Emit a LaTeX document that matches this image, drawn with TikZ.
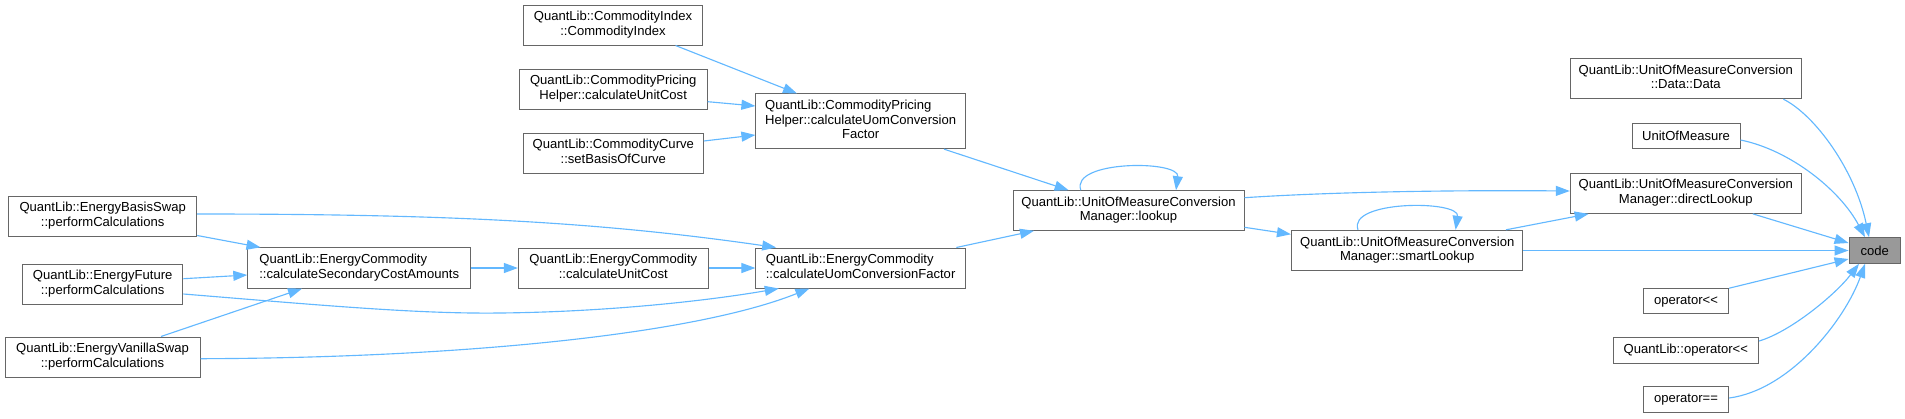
\documentclass[tikz,border=0pt]{standalone}
\usepackage{fontspec}
\usetikzlibrary{arrows.meta,calc}
\newfontfamily\dfont{Liberation Sans}
\newdimen\px \px=0.75pt
\definecolor{edgeblue}{HTML}{63B8FF}
\definecolor{bordergray}{HTML}{666666}
\definecolor{rootgray}{HTML}{999999}
\newcommand\twol[2]{\begin{tabular}{@{}l@{}}#1\\\multicolumn{1}{@{}c@{}}{#2}\end{tabular}}
\newcommand\threel[3]{\begin{tabular}{@{}l@{}}#1\\#2\\\multicolumn{1}{@{}c@{}}{#3}\end{tabular}}
\tikzset{
  box/.style={draw=bordergray, fill=white, line width=0.75pt, inner sep=0pt, align=center,
    font=\dfont\fontsize{9.8}{11}\selectfont, text=black},
  rootbox/.style={box, fill=rootgray},
  conn/.style={draw=edgeblue, line width=0.85pt, -{Triangle[length=10.5pt,width=7.5pt]}},
}
\begin{document}
\begin{tikzpicture}[x=0.75pt, y=-0.75pt]
\useasboundingbox (0,0) rectangle (1905,418);
% nodes
\node[box, minimum width=179\px, minimum height=40\px] (ci) at (613,25) {\twol{QuantLib::CommodityIndex}{::CommodityIndex}};
\node[box, minimum width=188\px, minimum height=40\px] (cuc) at (613.2,89.2) {\twol{QuantLib::CommodityPricing}{Helper::calculateUnitCost}};
\node[box, minimum width=180\px, minimum height=40\px] (cc) at (613.3,153) {\twol{QuantLib::CommodityCurve}{::setBasisOfCurve}};
\node[box, minimum width=209.4\px, minimum height=54.7\px] (cph) at (860.6,121.3) {\threel{QuantLib::CommodityPricing}{Helper::calculateUomConversion}{Factor}};
\node[box, minimum width=188\px, minimum height=40\px] (ebs) at (102.7,216) {\twol{QuantLib::EnergyBasisSwap}{::performCalculations}};
\node[box, minimum width=160.5\px, minimum height=40\px] (ef) at (102.7,284) {\twol{QuantLib::EnergyFuture}{::performCalculations}};
\node[box, minimum width=195\px, minimum height=40\px] (evs) at (102.5,357) {\twol{QuantLib::EnergyVanillaSwap}{::performCalculations}};
\node[box, minimum width=222.8\px, minimum height=40.3\px] (ecs) at (359.2,268) {\twol{QuantLib::EnergyCommodity}{::calculateSecondaryCostAmounts}};
\node[box, minimum width=189.8\px, minimum height=40\px] (ecu) at (613.3,268) {\twol{QuantLib::EnergyCommodity}{::calculateUnitCost}};
\node[box, minimum width=209.4\px, minimum height=40\px] (ecf) at (860.6,268) {\twol{QuantLib::EnergyCommodity}{::calculateUomConversionFactor}};
\node[box, minimum width=231\px, minimum height=39.6\px] (lk) at (1128.5,210.5) {\twol{QuantLib::UnitOfMeasureConversion}{Manager::lookup}};
\node[box, minimum width=231\px, minimum height=40\px] (dd) at (1685.8,78.7) {\twol{QuantLib::UnitOfMeasureConversion}{::Data::Data}};
\node[box, minimum width=108\px, minimum height=25.4\px] (uom) at (1686,136) {UnitOfMeasure};
\node[box, minimum width=231\px, minimum height=40.3\px] (dl) at (1685.8,193.2) {\twol{QuantLib::UnitOfMeasureConversion}{Manager::directLookup}};
\node[box, minimum width=231.5\px, minimum height=40.4\px] (sl) at (1407.2,250.5) {\twol{QuantLib::UnitOfMeasureConversion}{Manager::smartLookup}};
\node[rootbox, minimum width=51.5\px, minimum height=25.6\px] (code) at (1874.8,250.5) {code};
\node[box, minimum width=85.3\px, minimum height=25\px] (op1) at (1686,301.2) {operator<{}<};
\node[box, minimum width=145.5\px, minimum height=25.7\px] (qop) at (1685.8,350.2) {QuantLib::operator<{}<};
\node[box, minimum width=85.3\px, minimum height=25.7\px] (op2) at (1686,399.8) {operator==};
% edges
\draw[conn] ($(ci.south)+(62.5,0)$) -- ($(cph.north)+(-63.6,0)$);
\draw[conn] ($(cuc.east)+(0,12.5)$) -- ($(cph.west)+(0,-15.3)$);
\draw[conn] ($(cc.east)+(0,-12)$) -- ($(cph.west)+(0,13.7)$);
\draw[conn] ($(cph.south)+(83.4,0)$) -- ($(lk.north)+(-59.9,0)$);
\draw[conn] ($(ebs.south east)+(0,-1)$) -- ($(ecs.north west)+(13.2,0)$);
\draw[conn] ($(ef.east)+(0,-5.3)$) -- ($(ecs.west)+(0,7)$);
\draw[conn] ($(evs.north)+(58.5,0)$) -- ($(ecs.south)+(-57.2,0)$);
\draw[conn] (ecs.east) -- (ecu.west);
\draw[conn] (ecu.east) -- (ecf.west);
\draw[conn] ($(ebs.east)+(0,-2)$) .. controls (450,214) and (600,222) .. ($(ecf.north west)+(20.8,0)$);
\draw[conn] ($(ef.east)+(0,10)$) .. controls (330,306) and (420,314) .. (500,313) .. controls (600,312) and (700,302) .. ($(ecf.south)+(-81.8,0)$);
\draw[conn] ($(evs.east)+(0,1.7)$) .. controls (450,358) and (690,336) .. ($(ecf.south)+(-51.2,0)$);
\draw[conn] ($(ecf.north)+(95.7,0)$) -- ($(lk.south)+(-94.5,0)$);
\draw[conn] ($(lk.north)+(-47.7,0)$) .. controls (1070,160) and (1180,160) .. ($(lk.north)+(47.5,0)$);
\draw[conn] ($(lk.east)+(0,-12.8)$) .. controls (1330,192) and (1450,190) .. ($(dl.west)+(0,-2.2)$);
\draw[conn] ($(lk.east)+(0,16.8)$) -- ($(sl.west)+(0,-16.2)$);
\draw[conn] ($(sl.north)+(-49.2,0)$) .. controls (1347,200) and (1460,200) .. ($(sl.north)+(48.4,0)$);
\draw[conn] ($(sl.north)+(98.8,0)$) -- ($(dl.south)+(-97.1,0)$);
\draw[conn] (sl.east) -- (code.west);
\draw[conn] ($(dl.south)+(67,0)$) -- ($(code.west)+(0,-7.5)$);
\draw[conn] ($(dd.south)+(97.6,0)$) .. controls (1815,115) and (1855,170) .. ($(code.north)+(-5.8,0)$);
\draw[conn] ($(uom.east)+(0,4)$) .. controls (1790,150) and (1840,190) .. ($(code.north)+(-9.8,0)$);
\draw[conn] (op1.north east) -- ($(code.west)+(0,8.5)$);
\draw[conn] ($(qop.east)+(0,-9.2)$) .. controls (1790,332) and (1835,295) .. ($(code.south)+(-15.8,0)$);
\draw[conn] ($(op2.east)+(0,-1.8)$) .. controls (1790,390) and (1845,320) .. ($(code.south)+(-9.8,0)$);
\end{tikzpicture}
\end{document}
